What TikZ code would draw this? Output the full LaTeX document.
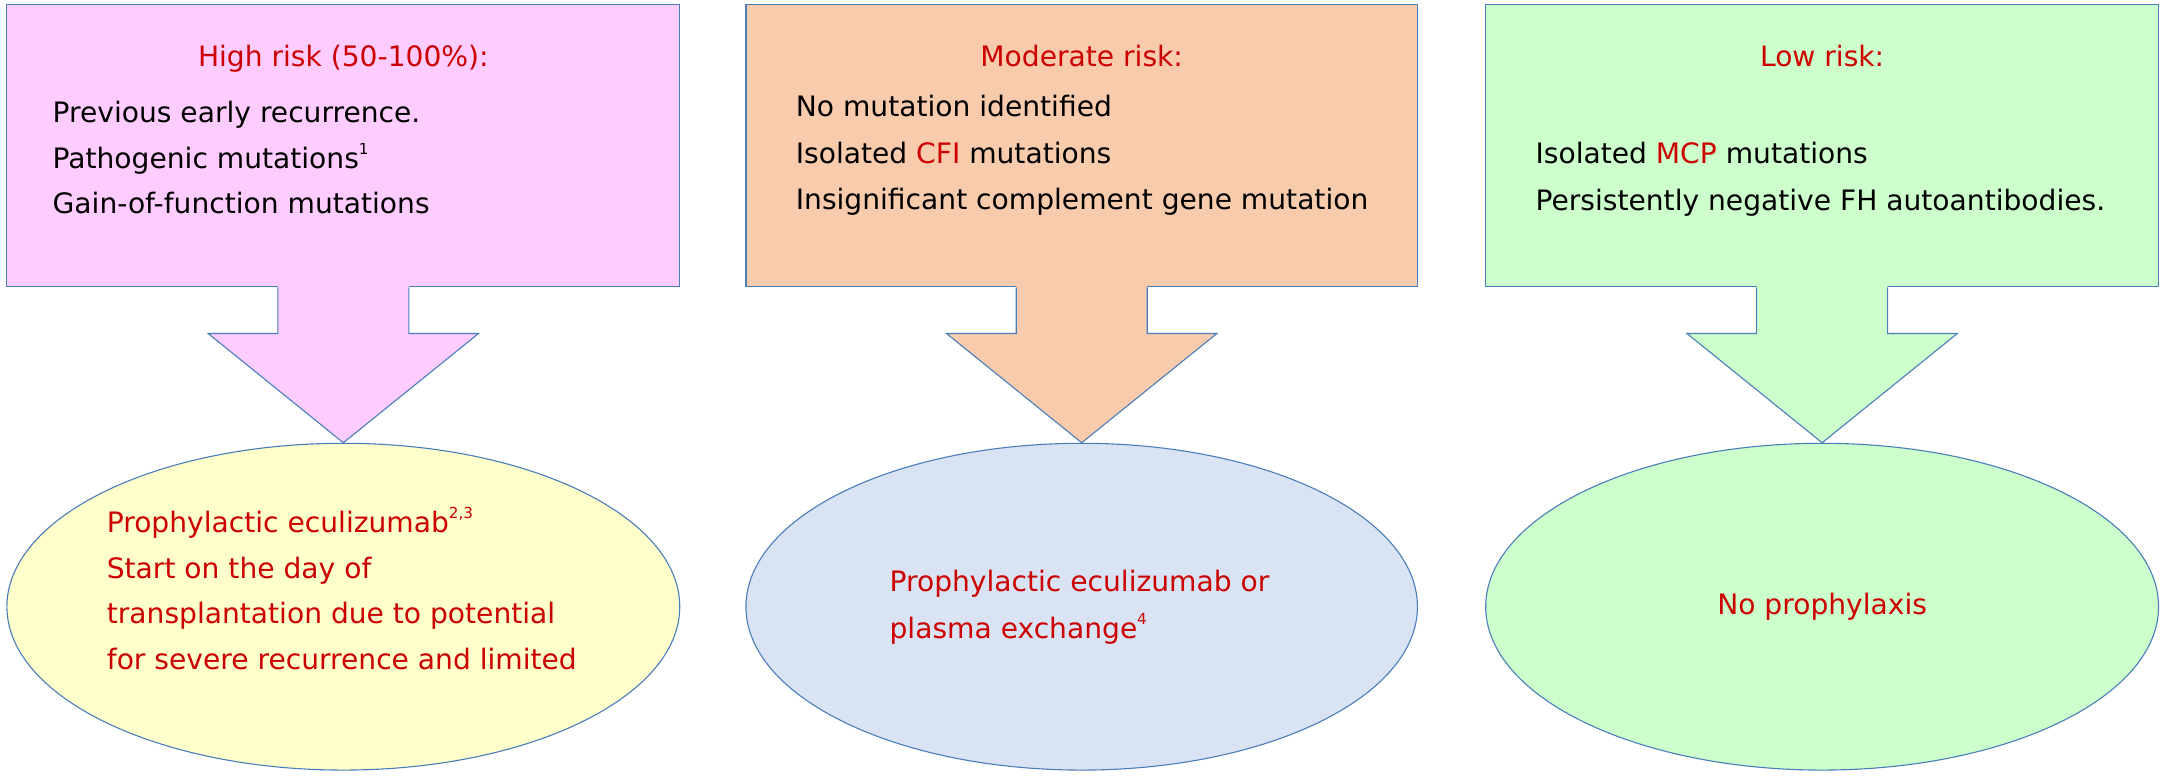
\documentclass[tikz,border=0pt]{standalone}
\usepackage{fontspec}
\setmainfont{DejaVu Sans}
\usetikzlibrary{shapes.geometric,calc}
\definecolor{pinkfill}{HTML}{FFCCFF}
\definecolor{peachfill}{HTML}{F8CBAD}
\definecolor{greenfill}{HTML}{CCFFCC}
\definecolor{yellowfill}{HTML}{FFFFCC}
\definecolor{bluefill}{HTML}{DAE3F3}
\definecolor{edgeblue}{HTML}{4A7EBB}
\definecolor{riskred}{HTML}{CC0000}
\newcommand\supmark[1]{\raisebox{0.5em}{\fontsize{11}{11}\selectfont #1}}
\newcommand\blockarrow[3]{%
  \path[fill=#3] let \p1=(#1.south), \p2=(#2.north) in
    (\x1-47.5pt,\y1+1.5pt) -- (\x1-47.5pt,\y1-33.5pt) -- (\x1-98pt,\y1-33.5pt) --
    (\x1,\y2) -- (\x1+98pt,\y1-33.5pt) -- (\x1+47.5pt,\y1-33.5pt) -- (\x1+47.5pt,\y1+1.5pt) -- cycle;
  \path[draw=edgeblue,line width=0.8pt] let \p1=(#1.south), \p2=(#2.north) in
    (\x1-47.5pt,\y1) -- (\x1-47.5pt,\y1-33.5pt) -- (\x1-98pt,\y1-33.5pt) --
    (\x1,\y2) -- (\x1+98pt,\y1-33.5pt) -- (\x1+47.5pt,\y1-33.5pt) -- (\x1+47.5pt,\y1);
}
\begin{document}
\begin{tikzpicture}[x=1pt,y=-1pt,
  riskbox/.style={rectangle,draw=edgeblue,line width=0.8pt,inner sep=0pt,minimum height=205pt},
  outcome/.style={ellipse,draw=edgeblue,line width=0.8pt,inner sep=0pt,minimum width=487pt,minimum height=237pt},
  txt/.style={inner sep=0pt,anchor=base west,font=\fontsize{20.4}{24}\selectfont},
  ttl/.style={inner sep=0pt,anchor=base,text=riskred,font=\fontsize{20.4}{24}\selectfont},
  redtxt/.style={txt,text=riskred}]
\useasboundingbox[fill=white] (0,0) rectangle (1568,564.25);
% boxes
\node[riskbox,fill=pinkfill,minimum width=488pt] (b1) at (249,105.5) {};
\node[riskbox,fill=peachfill,minimum width=487pt] (b2) at (784.5,105.5) {};
\node[riskbox,fill=greenfill,minimum width=488pt] (b3) at (1321.5,105.5) {};
% ellipses
\node[outcome,fill=yellowfill,minimum width=488pt] (e1) at (249,440) {};
\node[outcome,fill=bluefill] (e2) at (784.5,440) {};
\node[outcome,fill=greenfill,minimum width=488pt] (e3) at (1321.5,440) {};
% arrows
\blockarrow{b1}{e1}{pinkfill}
\blockarrow{b2}{e2}{peachfill}
\blockarrow{b3}{e3}{greenfill}
% box 1 text
\node[ttl] (h1) at (249,48.3) {High risk (50-100\%):};
\node[txt] (h1a) at (38,89) {Previous early recurrence.};
\node[txt] (h1b) at (38,122) {Pathogenic mutations\supmark{1}};
\node[txt] (h1c) at (38,154.6) {Gain-of-function mutations};
% box 2 text
\node[ttl] (h2) at (784.5,48) {Moderate risk:};
\node[txt] (h2a) at (577,84.5) {No mutation identified};
\node[txt] (h2b) at (577,118.3) {Isolated \textcolor{riskred}{CFI} mutations};
\node[txt] (h2c) at (577,152) {Insignificant complement gene mutation};
% box 3 text
\node[ttl] (h3) at (1321.5,48) {Low risk:};
\node[txt] (h3a) at (1113.5,118.8) {Isolated \textcolor{riskred}{MCP} mutations};
\node[txt] (h3b) at (1113.5,152.6) {Persistently negative FH autoantibodies.};
% ellipse 1 text
\node[redtxt] (o1a) at (77.3,386.5) {Prophylactic eculizumab\supmark{2,3}};
\node[redtxt] (o1b) at (77.3,419.5) {Start on the day of};
\node[redtxt] (o1c) at (77.3,452.5) {transplantation due to potential};
\node[redtxt] (o1d) at (77.3,485.5) {for severe recurrence and limited};
% ellipse 2 text
\node[redtxt] (o2a) at (645,429) {Prophylactic eculizumab or};
\node[redtxt] (o2b) at (645,463) {plasma exchange\supmark{4}};
% ellipse 3 text
\node[ttl] (o3a) at (1321.5,446) {No prophylaxis};
\end{tikzpicture}
\end{document}
